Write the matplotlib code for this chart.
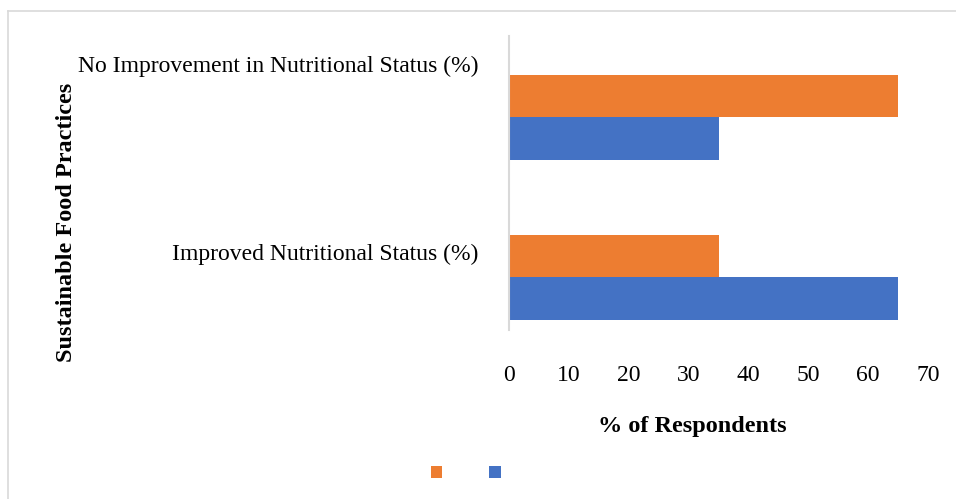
import matplotlib
matplotlib.use("Agg")
import matplotlib.pyplot as plt
import matplotlib.transforms as mtransforms
from matplotlib.lines import Line2D

# ---- data ----
categories = ["Improved Nutritional Status (%)",
              "No Improvement in Nutritional Status (%)"]
orange_vals = [35, 65]
blue_vals = [65, 35]
series_names = ["", ""]          # legend shows only the colour keys
xticks = [0, 10, 20, 30, 40, 50, 60, 70]

ORANGE = "#ED7D31"
BLUE = "#4472C4"

plt.rcParams["font.family"] = ["Liberation Serif", "DejaVu Serif"]

fig = plt.figure(figsize=(9.56, 4.99), dpi=100)
ax = fig.add_axes([509 / 956, 1 - 330 / 499, 419 / 956, 294 / 499])

pos = list(range(len(categories)))
h = 0.265
bars_o = ax.barh([p + h / 2 for p in pos], orange_vals, height=h, color=ORANGE)
bars_b = ax.barh([p - h / 2 for p in pos], blue_vals, height=h, color=BLUE)

ax.set_xlim(0, 70)
ax.set_ylim(-0.33, 1.51)
ax.set_xticks(xticks)
ax.set_xticklabels([str(t) for t in xticks], fontsize=17)
ax.set_yticks(pos)
ax.set_yticklabels(categories, fontsize=17)
ax.tick_params(axis="x", length=0, pad=25)
ax.tick_params(axis="y", length=0, pad=22)

# category labels sit above their bar pairs in the original
offsets = [25, 54]
for lab, dy in zip(ax.get_yticklabels(), offsets):
    lab.set_transform(lab.get_transform() +
                      mtransforms.ScaledTranslation(0, dy / 100, fig.dpi_scale_trans))

for s in ["top", "right", "bottom"]:
    ax.spines[s].set_visible(False)
ax.spines["left"].set_color("#D9D9D9")
ax.spines["left"].set_linewidth(1.5)

ax.set_xlabel("% of Respondents", fontsize=17.5, fontweight="bold")
ax.xaxis.set_label_coords((692 - 509) / 419, (330 - 416) / 294)
ax.set_ylabel("Sustainable Food Practices", fontsize=17.5, fontweight="bold")
ax.yaxis.set_label_coords((77 - 509) / 419, (330 - 222) / 294)

fig.legend([bars_o, bars_b], series_names, loc="center", ncol=2,
           bbox_to_anchor=(468 / 956, 1 - 475 / 499), frameon=False,
           fontsize=15, handlelength=0.55, handleheight=0.55,
           handletextpad=0.2, columnspacing=2.05)

# chart-area border (top and left edges visible)
fig.add_artist(Line2D([8 / 956, 1], [1 - 11 / 499, 1 - 11 / 499],
                      transform=fig.transFigure, color="#D9D9D9", lw=1.2))
fig.add_artist(Line2D([8 / 956, 8 / 956], [0, 1 - 11 / 499],
                      transform=fig.transFigure, color="#D9D9D9", lw=1.2))

fig.savefig("out.png", dpi=100)
